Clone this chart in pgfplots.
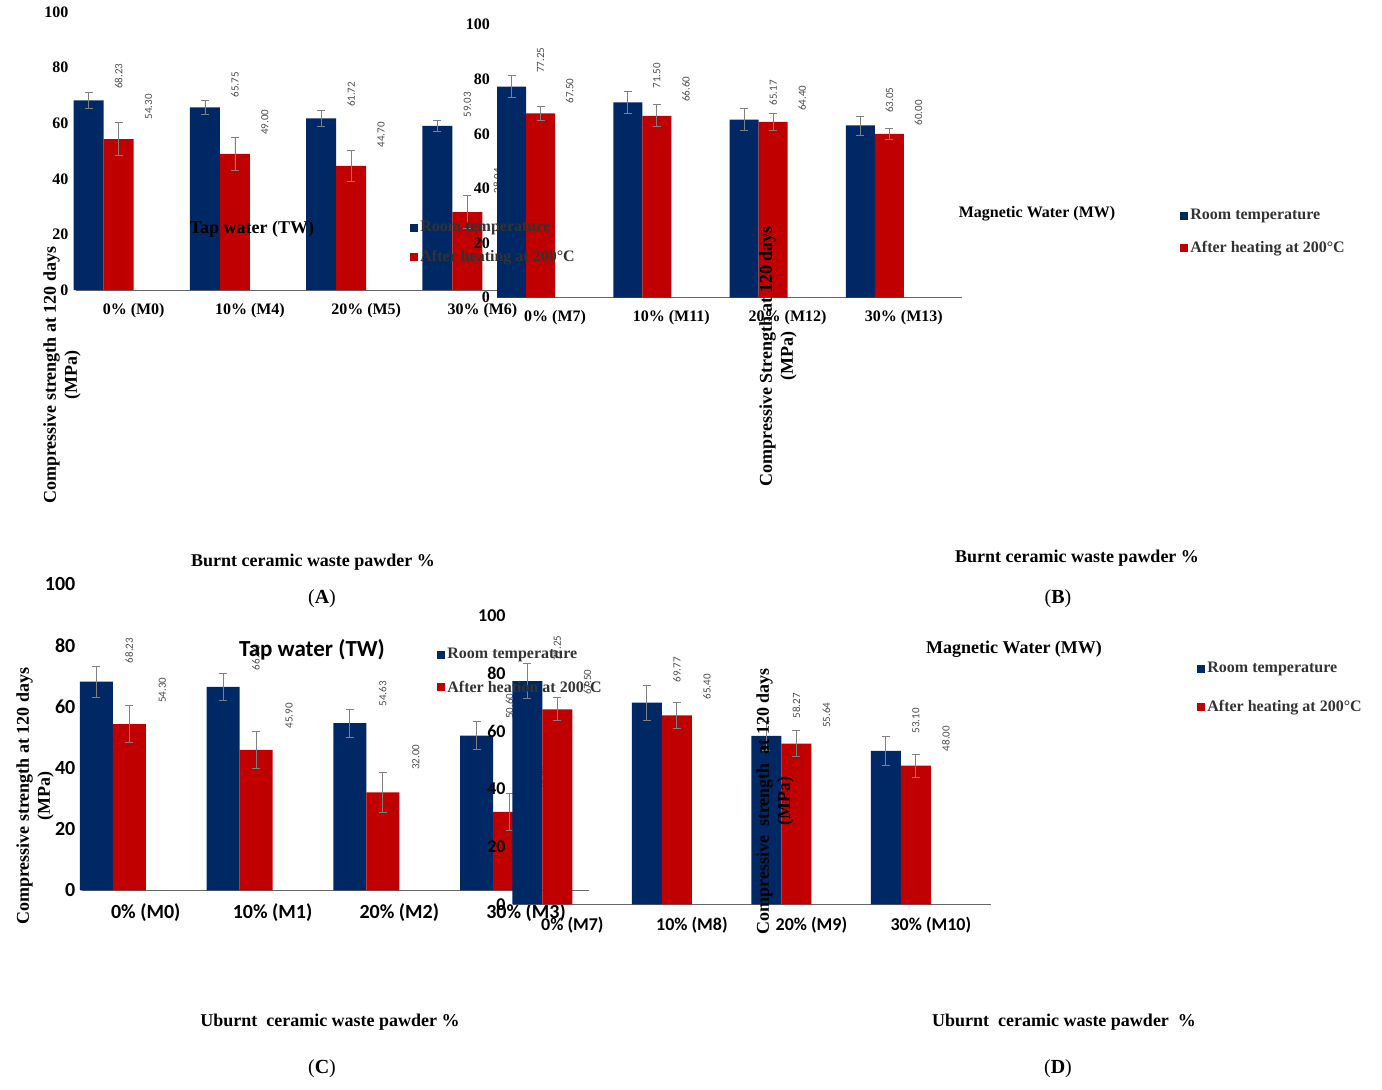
\documentclass[border=0pt]{standalone}
\usepackage{pgfplots}
\pgfplotsset{compat=1.18}
\usepackage{fontspec}
\setmainfont{Liberation Serif}
\newfontfamily\calf{Carlito}
\definecolor{bblue}{RGB}{0,40,100}
\definecolor{rred}{RGB}{192,0,0}
\pgfplotsset{pan/.style={scale only axis, anchor=south west, ybar=0pt,
  ymin=0,ymax=100, ytick={0,20,...,100}, xmin=-0.5,xmax=3.5, xtick={0,1,2,3},
  axis lines=left, axis line style={-}, y axis line style={draw=none},
  x axis line style={black!60}, major tick length=0pt, clip=false,
  /pgf/number format/assume math mode=true,
  tick label style={font=\bfseries\fontsize{8}{9}\selectfont},
  xticklabel style={yshift=-3pt},
  error bars/error bar style={black!50}, error bars/error mark options={black!50,rotate=90,mark size=2pt}},
 bb/.style={fill=bblue, draw=none, error bars/.cd, y dir=both, y explicit},
 rr/.style={fill=rred, draw=none, error bars/.cd, y dir=both, y explicit},
 lab/.style={draw=none, fill=none, bar shift=#1, nodes near coords, point meta=explicit symbolic,
  every node near coord/.append style={rotate=90, anchor=west, inner sep=1pt, text=black!70, font=\calf\fontsize{5.5}{6}\selectfont}}}
\newcommand{\leg}[4]{% x y(px) text color
 \fill[#4] ({#1*0.5pt},{(893-#2)*0.5pt-2pt}) rectangle ++(4pt,4pt);
 \node[anchor=west, inner sep=0pt, font=\bfseries\fontsize{8}{9}\selectfont, text=black!80] at ({#1*0.5pt+5pt},{(893-#2)*0.5pt}) {#3};}
\begin{document}
\begin{tikzpicture}[x=1pt,y=1pt]
\path (0,0) rectangle (691,446.5);
% A
\begin{axis}[pan, at={(65,287.5)}, width=232.5pt, height=139pt, bar width=15pt,
  xticklabels={0\% (M0),10\% (M4),20\% (M5),30\% (M6)}]
\addplot[bb] coordinates {(0,68.23)+-(0,3) (1,65.75)+-(0,2.5) (2,61.72)+-(0,3) (3,59.03)+-(0,2)};
\addplot[rr] coordinates {(0,54.30)+-(0,6) (1,49.00)+-(0,6) (2,44.70)+-(0,5.5) (3,28.04)+-(0,6)};
\addplot[lab=-7.5pt] coordinates {(0,71.5)[68.23] (1,68.5)[65.75] (2,65)[61.72] (3,61.3)[59.03]};
\addplot[lab=7.5pt] coordinates {(0,60.5)[54.30] (1,55)[49.00] (2,50.5)[44.70] (3,34)[28.04]};
\end{axis}
% B
\begin{axis}[pan, at={(427.5,290)}, width=232.5pt, height=136.5pt, bar width=14.5pt,
  xticklabels={0\% (M7),10\% (M11),20\% (M12),30\% (M13)}]
\addplot[bb] coordinates {(0,77.25)+-(0,4) (1,71.50)+-(0,4) (2,65.17)+-(0,4) (3,63.05)+-(0,3.5)};
\addplot[rr] coordinates {(0,67.50)+-(0,2.5) (1,66.60)+-(0,4) (2,64.40)+-(0,3) (3,60.00)+-(0,2)};
\addplot[lab=-7.25pt] coordinates {(0,81.5)[77.25] (1,75.8)[71.50] (2,69.5)[65.17] (3,66.8)[63.05]};
\addplot[lab=7.25pt] coordinates {(0,70.2)[67.50] (1,70.8)[66.60] (2,67.6)[64.40] (3,62.2)[60.00]};
\end{axis}
% C
\begin{axis}[pan, at={(65,65)}, width=253.5pt, height=153pt, bar width=16.5pt,
  tick label style={font=\calf\bfseries\fontsize{10}{11}\selectfont},
  xticklabels={0\% (M0),10\% (M1),20\% (M2),30\% (M3)}]
\addplot[bb] coordinates {(0,68.23)+-(0,5) (1,66.50)+-(0,4.5) (2,54.63)+-(0,4.5) (3,50.60)+-(0,4.5)};
\addplot[rr] coordinates {(0,54.30)+-(0,6) (1,45.90)+-(0,6) (2,32.00)+-(0,6.5) (3,25.64)+-(0,6)};
\addplot[lab=-8.25pt] coordinates {(0,73.5)[68.23] (1,71.2)[66.50] (2,59.4)[54.63] (3,55.3)[50.60]};
\addplot[lab=8.25pt] coordinates {(0,60.5)[54.30] (1,52.2)[45.90] (2,38.7)[32.00] (3,31.8)[25.64]};
\end{axis}
% D
\begin{axis}[pan, at={(429,64)}, width=239pt, height=144.5pt, bar width=15pt,
  tick label style={font=\calf\bfseries\fontsize{9}{10}\selectfont},
  xticklabels={0\% (M7),10\% (M8),20\% (M9),30\% (M10)}]
\addplot[bb] coordinates {(0,77.25)+-(0,6) (1,69.77)+-(0,6) (2,58.27)+-(0,5) (3,53.10)+-(0,5)};
\addplot[rr] coordinates {(0,67.50)+-(0,4) (1,65.40)+-(0,4.5) (2,55.64)+-(0,4.5) (3,48.00)+-(0,4)};
\addplot[lab=-7.5pt] coordinates {(0,83.5)[77.25] (1,76)[69.77] (2,63.5)[58.27] (3,58.3)[53.10]};
\addplot[lab=7.5pt] coordinates {(0,71.7)[67.50] (1,70.1)[65.40] (2,60.3)[55.64] (3,52.2)[48.00]};
\end{axis}
% texts A
\node[font=\bfseries\fontsize{9}{10}\selectfont] at (126,430) {Tap water (TW)};
\leg{410}{32}{Room temperature}{bblue}
\leg{410}{61}{After heating at 200°C}{rred}
\node[rotate=90, align=center, font=\bfseries\fontsize{9}{10.5}\selectfont] at (31,357) {Compressive strength at 120 days\\(MPa)};
\node[font=\bfseries\fontsize{9}{10}\selectfont] at (156.5,263.5) {Burnt ceramic waste pawder \%};
\node[font=\fontsize{10}{11}\selectfont] at (161,245.5) {(\textbf{A})};
% B
\node[font=\bfseries\fontsize{8}{9}\selectfont] at (518.5,438) {Magnetic Water (MW)};
\leg{1180}{20}{Room temperature}{bblue}
\leg{1180}{52}{After heating at 200°C}{rred}
\node[rotate=90, align=center, font=\bfseries\fontsize{9}{10.5}\selectfont] at (389,366.5) {Compressive Strength at 120 days\\(MPa)};
\node[font=\bfseries\fontsize{9}{10}\selectfont] at (538.5,265.5) {Burnt ceramic waste pawder \%};
\node[font=\fontsize{10}{11}\selectfont] at (529,245.5) {(\textbf{B})};
% C
\node[font=\calf\bfseries\fontsize{11.5}{12}\selectfont] at (156,220) {Tap water (TW)};
\leg{437}{459}{Room temperature}{bblue}
\leg{437}{491}{After heation at 200°C}{rred}
\node[rotate=90, align=center, font=\bfseries\fontsize{9}{10.5}\selectfont] at (17.5,146.5) {Compressive strength at 120 days\\(MPa)};
\node[font=\bfseries\fontsize{9}{10}\selectfont] at (165,33.5) {Uburnt\ \ ceramic waste pawder \%};
\node[font=\fontsize{10}{11}\selectfont] at (161,10.5) {(\textbf{C})};
% D
\node[font=\bfseries\fontsize{9}{10}\selectfont] at (507,220) {Magnetic Water (MW)};
\leg{1197}{473}{Room temperature}{bblue}
\leg{1197}{511}{After heating at 200°C}{rred}
\node[rotate=90, align=center, font=\bfseries\fontsize{9}{10.5}\selectfont] at (387.5,144) {Compressive\ \ strength\ \ at 120 days\\(MPa)};
\node[font=\bfseries\fontsize{9}{10}\selectfont] at (532,33.5) {Uburnt\ \ ceramic waste pawder \ \%};
\node[font=\fontsize{10}{11}\selectfont] at (529,10.5) {(\textbf{D})};
\end{tikzpicture}
\end{document}
